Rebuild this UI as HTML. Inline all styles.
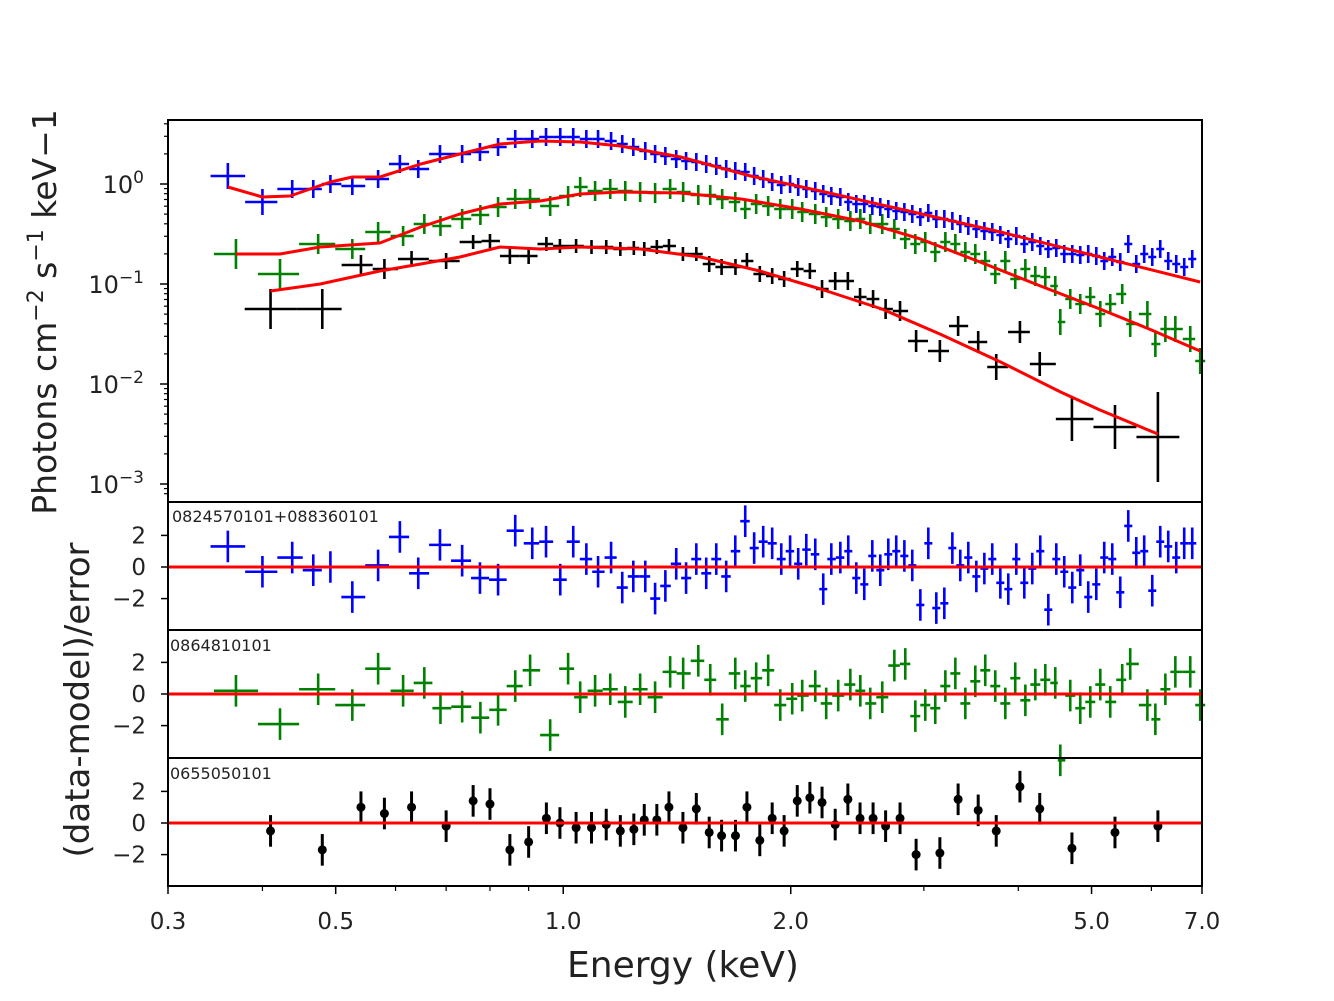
<!DOCTYPE html>
<html><head><meta charset="utf-8"><style>
body{margin:0;background:#fff}
svg text{font-family:"DejaVu Sans","Liberation Sans",sans-serif;fill:#222}
</style></head><body>
<svg id="chart" width="1334" height="996" viewBox="0 0 1334 996" xmlns="http://www.w3.org/2000/svg">
<rect width="1334" height="996" fill="#fff"/>
<g id="marks"></g>
<g id="axes"></g>
</svg>
<script>
// ---------- data ----------
const blueE=[0.360,0.400,0.438,0.467,0.492,0.526,0.569,0.608,0.643,0.687,0.735,0.776,0.820,0.864,0.910,0.949,0.991,1.031,1.073,1.112,1.157,1.197,1.238,1.284,1.323,1.365,1.411,1.454,1.500,1.546,1.594,1.643,1.689,1.741,1.789,1.839,1.890,1.943,1.996,2.046,2.097,2.155,2.208,2.263,2.326,2.383,2.442,2.502,2.564,2.627,2.692,2.758,2.827,2.896,2.968,3.041,3.116,3.193,3.272,3.352,3.435,3.520,3.607,3.695,3.787,3.880,3.976,4.074,4.174,4.277,4.383,4.491,4.601,4.715,4.831,4.950,5.073,5.197,5.326,5.457,5.592,5.730,5.870,6.016,6.164,6.316,6.472,6.631,6.795];
const blueLogFlux=[0.08,-0.18,-0.05,-0.05,0,-0.02,0.05,0.20,0.15,0.30,0.30,0.32,0.37,0.45,0.45,0.47,0.47,0.47,0.45,0.45,0.43,0.40,0.37,0.33,0.30,0.28,0.25,0.23,0.22,0.20,0.18,0.15,0.13,0.12,0.08,0.05,0.02,-0.01,0,-0.03,-0.05,-0.07,-0.10,-0.12,-0.13,-0.18,-0.20,-0.20,-0.22,-0.23,-0.25,-0.27,-0.28,-0.30,-0.33,-0.29,-0.35,-0.35,-0.37,-0.40,-0.42,-0.45,-0.47,-0.48,-0.51,-0.55,-0.52,-0.60,-0.58,-0.62,-0.65,-0.64,-0.70,-0.70,-0.71,-0.70,-0.72,-0.77,-0.73,-0.78,-0.60,-0.80,-0.70,-0.73,-0.65,-0.77,-0.80,-0.83,-0.75];
const blueResid=[1.3,-0.3,0.6,-0.2,0,-1.9,0.1,1.9,-0.4,1.4,0.4,-0.7,-0.8,2.3,1.5,1.6,-0.8,1.6,0.5,-0.3,0.6,-1.3,-0.6,-0.6,-2.0,-1.2,0.2,-0.7,0.5,-0.4,0.5,-0.6,1.0,2.9,1.2,1.6,1.5,0.5,1.0,0.2,1.1,0.8,-1.4,0.5,0.6,1.0,-0.7,-1.1,0.7,-0.2,0.8,1.0,0.7,0.1,-2.4,1.5,-2.6,-2.3,1.2,0.1,0.6,-0.6,-0.1,0.5,-1.0,-1.4,0.5,-1.0,-0.1,1.0,-2.7,0.5,-0.3,-1.3,-0.2,-1.9,-1.1,0.6,0.5,-1.6,2.6,0.9,1.0,-1.5,1.6,1.3,0.6,1.5,1.5];
const blueModelE=[0.36,0.40,0.435,0.492,0.526,0.572,0.648,0.73,0.825,0.932,1.053,1.19,1.43,1.77,2.19,2.79,3.79,5.13,6.96];
const blueModelLog=[-0.03,-0.13,-0.12,0.02,0.07,0.07,0.20,0.30,0.40,0.43,0.42,0.38,0.27,0.08,-0.07,-0.25,-0.48,-0.73,-0.98];

const greenE=[0.369,0.422,0.474,0.526,0.569,0.614,0.655,0.688,0.735,0.777,0.820,0.864,0.904,0.961,1.015,1.053,1.102,1.154,1.208,1.264,1.323,1.385,1.441,1.509,1.565,1.623,1.689,1.741,1.800,1.867,1.937,2.009,2.071,2.155,2.228,2.311,2.398,2.472,2.548,2.643,2.742,2.835,2.923,3.013,3.106,3.203,3.302,3.404,3.509,3.617,3.729,3.845,3.963,4.087,4.213,4.343,4.477,4.546,4.686,4.831,4.981,5.135,5.293,5.490,5.625,5.927,6.073,6.261,6.454,6.754,6.962];
const greenLogFlux=[-0.70,-0.90,-0.60,-0.65,-0.48,-0.52,-0.40,-0.42,-0.35,-0.31,-0.23,-0.15,-0.15,-0.22,-0.12,-0.03,-0.07,-0.05,-0.07,-0.08,-0.09,-0.05,-0.08,-0.11,-0.11,-0.15,-0.18,-0.25,-0.20,-0.22,-0.25,-0.25,-0.28,-0.30,-0.33,-0.35,-0.37,-0.35,-0.40,-0.40,-0.45,-0.55,-0.60,-0.58,-0.68,-0.58,-0.60,-0.68,-0.70,-0.77,-0.90,-0.77,-0.95,-0.85,-0.92,-0.93,-1.02,-1.38,-1.15,-1.20,-1.13,-1.30,-1.20,-1.10,-1.40,-1.30,-1.60,-1.45,-1.45,-1.55,-1.77];
const greenResid=[0.2,-1.9,0.3,-0.7,1.6,0.2,0.7,-0.9,-0.8,-1.5,-1.0,0.5,1.5,-2.6,1.6,-0.2,0.2,0.3,-0.5,0.3,-0.2,1.4,1.3,2.1,0.9,-1.6,1.3,0.5,1.0,1.5,-0.7,-0.3,-0.1,0.5,-0.6,-0.1,0.6,0.2,-0.6,-0.2,1.8,1.9,-1.4,-0.7,-0.9,0.5,1.3,-0.6,0.8,1.5,0.5,-0.6,1.0,-0.4,0.6,0.9,0.7,-4.2,-0.1,-0.9,-0.5,0.6,-0.5,0.9,1.9,-0.7,-1.6,0.3,1.4,1.4,-0.7];
const greenModelE=[0.369,0.422,0.477,0.572,0.648,0.73,0.825,0.932,1.053,1.19,1.43,1.72,2.06,2.47,2.97,3.56,4.28,5.13,5.96,6.96];
const greenModelLog=[-0.70,-0.70,-0.63,-0.59,-0.43,-0.30,-0.20,-0.17,-0.10,-0.08,-0.09,-0.15,-0.25,-0.37,-0.55,-0.78,-1.02,-1.25,-1.45,-1.67];

const blackE=[0.41,0.48,0.54,0.58,0.63,0.70,0.76,0.80,0.85,0.90,0.95,0.99,1.04,1.09,1.14,1.19,1.24,1.28,1.33,1.38,1.44,1.50,1.56,1.62,1.69,1.75,1.82,1.89,1.96,2.04,2.12,2.20,2.29,2.38,2.47,2.57,2.67,2.79,2.93,3.15,3.33,3.54,3.74,4.02,4.27,4.71,5.37,6.12];
const blackLogFlux=[-1.25,-1.25,-0.81,-0.85,-0.75,-0.77,-0.58,-0.57,-0.72,-0.72,-0.60,-0.62,-0.62,-0.63,-0.63,-0.65,-0.64,-0.65,-0.63,-0.62,-0.70,-0.70,-0.80,-0.83,-0.83,-0.77,-0.90,-0.92,-0.95,-0.85,-0.87,-1.05,-0.97,-0.97,-1.13,-1.15,-1.25,-1.27,-1.57,-1.67,-1.42,-1.58,-1.83,-1.48,-1.80,-2.35,-2.43,-2.53];
const blackLogErr=[0.20,0.20,0.10,0.10,0.08,0.08,0.07,0.07,0.08,0.08,0.07,0.07,0.07,0.07,0.07,0.07,0.07,0.07,0.07,0.07,0.07,0.07,0.08,0.08,0.08,0.08,0.08,0.08,0.08,0.08,0.08,0.09,0.09,0.09,0.09,0.09,0.10,0.10,0.11,0.11,0.10,0.11,0.13,0.11,0.12,0.22,0.22,0.45];
const blackResid=[-0.5,-1.7,1.0,0.6,1.0,-0.2,1.4,1.2,-1.7,-1.2,0.3,0,-0.3,-0.3,-0.1,-0.5,-0.4,0.2,0.2,1.0,-0.3,0.9,-0.6,-0.8,-0.8,1.0,-1.1,0.3,-0.5,1.4,1.6,1.3,-0.1,1.5,0.3,0.3,-0.2,0.3,-2.0,-1.9,1.5,0.8,-0.5,2.3,0.9,-1.6,-0.6,-0.2];
const blackModelE=[0.41,0.477,0.572,0.648,0.73,0.825,0.932,1.053,1.264,1.52,1.82,2.19,2.64,3.15,3.79,4.55,5.13,6.12];
const blackModelLog=[-1.07,-1.00,-0.87,-0.80,-0.73,-0.63,-0.65,-0.63,-0.65,-0.73,-0.87,-1.05,-1.25,-1.50,-1.78,-2.08,-2.26,-2.50];

const xTickVals=[0.3,0.5,1.0,2.0,5.0,7.0];
const xTickLabels=["0.3","0.5","1.0","2.0","5.0","7.0"];
const xMinorVals=[0.4,0.6,0.7,0.8,0.9,3,4,6];
const yDecades=[0,-1,-2,-3];
const residTicks=[2,0,-2];
const residTickLabels=["2","0","\u22122"];

// ---------- scales ----------
const X0=168,X1=1202;
const xS=e=>X0+(Math.log10(e)-Math.log10(0.3))/(Math.log10(7)-Math.log10(0.3))*(X1-X0);
const yMain=l=>184-100*l;
const panels=[{top:502,bot:630,zero:567},{top:630,bot:758,zero:694},{top:758,bot:886,zero:823}];
const rS=(p,v)=>panels[p].zero-15.8*v;

const NS="http://www.w3.org/2000/svg";
const marks=document.getElementById('marks'),axes=document.getElementById('axes');
function mk(tag,attrs,parent){const el=document.createElementNS(NS,tag);for(const k in attrs)el.setAttribute(k,attrs[k]);(parent||marks).appendChild(el);return el;}
function halfW(E,i){const l=Math.log10(E[i]);const lp=i>0?Math.log10(E[i-1]):null,ln=i<E.length-1?Math.log10(E[i+1]):null;
 const a=lp!==null?(l-lp)/2:(ln-l)/2,b=ln!==null?(ln-l)/2:(l-lp)/2;return [Math.pow(10,l-a),Math.pow(10,l+b)];}

function drawSeries(E,LF,errFn,resid,panel,color,name,dots){
 const g=mk('g',{});
 
 
 const rg=mk('g',{});
 
 
 for(let i=0;i<E.length;i++){
  const [lo,hi]=halfW(E,i);const x=xS(E[i]),y=yMain(LF[i]),e=errFn(i);
  const p=mk('path',{d:`M${xS(lo)},${y}H${xS(hi)}M${x},${y-e}V${y+e}`,stroke:color,'stroke-width':2.6,fill:'none'},g);
  
  
  const ry=rS(panel,resid[i]);
  const rp=mk('path',{d:dots?`M${x},${ry-15.8}V${ry+15.8}`:`M${xS(lo)},${ry}H${xS(hi)}M${x},${ry-15.8}V${ry+15.8}`,stroke:color,'stroke-width':dots?3:2.6,fill:'none'},rg);
  
  
  if(dots){const c=mk('circle',{cx:x,cy:ry,r:4.5,fill:color},rg);
   
   }
 }
}
function drawModel(E,L,name){
 const pts=E.map((e,i)=>xS(e)+','+yMain(L[i])).join(' ');
 const pl=mk('polyline',{points:pts,fill:'none',stroke:'#ff0000','stroke-width':3,'stroke-linejoin':'round'});
 
 
}
drawSeries(blackE,blackLogFlux,i=>blackLogErr[i]*100,blackResid,2,'#000','black-0655050101',true);
drawSeries(greenE,greenLogFlux,i=>(i<2?15:(greenLogFlux[i]<-1.2?13:10)),greenResid,1,'#008000','green-0864810101',false);
drawSeries(blueE,blueLogFlux,i=>(i<2?13:9),blueResid,0,'#0000ff','blue-0824570101',false);
drawModel(blackModelE,blackModelLog,'black');
drawModel(greenModelE,greenModelLog,'green');
drawModel(blueModelE,blueModelLog,'blue');
panels.forEach((p,k)=>{const l=mk('line',{x1:X0,x2:X1,y1:p.zero,y2:p.zero,stroke:'#ff0000','stroke-width':3});
 
 });

// ---------- axes ----------
function t(x,y,s,attrs,name){const el=mk('text',Object.assign({x:x,y:y},attrs||{}),axes);el.textContent=s;return el;}
const frame=(y0,y1,name)=>{const r=mk('rect',{x:X0,y:y0,width:X1-X0,height:y1-y0,fill:'none',stroke:'#000','stroke-width':2},axes);};
frame(120,502,'main-panel-frame');
panels.forEach((p,k)=>frame(p.top,p.bot,'residual-panel-frame-'+(k+1)));
yDecades.forEach(d=>{
 const y=yMain(d);mk('line',{x1:X0-8,x2:X0,y1:y,y2:y,stroke:'#000','stroke-width':1.5},axes);
 for(let m=2;m<=9;m++){const ym=yMain(d+Math.log10(m));if(ym>=120&&ym<=502)mk('line',{x1:X0-4,x2:X0,y1:ym,y2:ym,stroke:'#000','stroke-width':1.2},axes);}
 const tx=t(144,y+9,'10',{'font-size':24,'text-anchor':'end'},'y-tick-label');
 const ts=mk('tspan',{dy:-10,'font-size':17},tx);ts.textContent=d===0?'0':'\u2212'+(-d);
});
for(let m=8;m<=9;m++){const ym=yMain(-4+Math.log10(m));if(ym<=502)mk('line',{x1:X0-4,x2:X0,y1:ym,y2:ym,stroke:'#000','stroke-width':1.2},axes);}
panels.forEach((p,k)=>{residTicks.forEach((v,j)=>{const y=rS(k,v);
 mk('line',{x1:X0-7,x2:X0,y1:y,y2:y,stroke:'#000','stroke-width':1.5},axes);
 t(146,y+8,residTickLabels[j],{'font-size':23,'text-anchor':'end'},'residual-tick-label');});});
xTickVals.forEach((v,i)=>{const x=xS(v);mk('line',{x1:x,x2:x,y1:886,y2:894,stroke:'#000','stroke-width':1.5},axes);
 t(x,929,xTickLabels[i],{'font-size':23,'text-anchor':'middle'},'x-tick-label');});
xMinorVals.forEach(v=>{const x=xS(v);mk('line',{x1:x,x2:x,y1:886,y2:891,stroke:'#000','stroke-width':1.2},axes);});
t(172,522,'0824570101+088360101',{'font-size':16,fill:'#000'},'panel-label-1');
t(170,651,'0864810101',{'font-size':16},'panel-label-2');
t(170,779,'0655050101',{'font-size':16},'panel-label-3');
t(683,977,'Energy (keV)',{'font-size':36,'text-anchor':'middle'},'x-axis-title');
const yt=t(0,0,'Photons cm',{'font-size':33,'text-anchor':'middle',transform:'translate(56,312) rotate(-90)'},'y-axis-title');
const parts=[['\u22122',-13,22],[' s',13,33],['\u22121',-13,22],[' keV\u22121',13,33]];
parts.forEach(([s,dy,fs])=>{const sp=mk('tspan',{dy:dy,'font-size':fs},yt);sp.textContent=s;});
t(0,0,'(data-model)/error',{'font-size':34,'text-anchor':'middle',transform:'translate(89,700) rotate(-90)'},'residual-axis-title');
</script>
</body></html>
